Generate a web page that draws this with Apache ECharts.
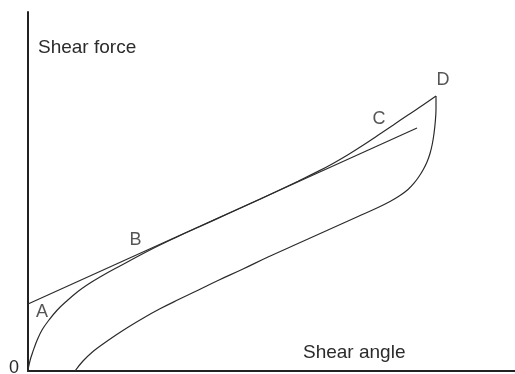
<!DOCTYPE html>
<html>
<head>
<meta charset="utf-8">
<script src="https://cdn.jsdelivr.net/npm/echarts@6/dist/echarts.min.js"></script>
<style>
  html, body { margin: 0; padding: 0; background: #fff; }
  #chart { width: 515px; height: 374px; }
</style>
</head>
<body>
<div id="chart"></div>
<script>
// Loading branch: from the origin through A, B, C up to D
const loadingCurve = [
  [0, 0], [0.8, 5], [2.2, 11], [4, 16.8], [6, 22.6], [9, 30.5], [14, 41],
  [21, 51], [29.3, 61], [39.3, 70.5], [49.3, 79], [59, 86], [72, 94],
  [92, 105], [122, 121], [150, 134.5], [172, 144.5], [200, 157.2],
  [232, 171.8], [250, 180.2], [270, 189.8], [290, 199.6], [305, 207.6],
  [320, 216.3], [335, 225.8], [350, 235.8], [365, 245.8], [380, 256],
  [395, 266], [408, 275]
];
// Unloading branch: from D back down to the shear-angle axis
const unloadingCurve = [
  [408, 275], [408, 262], [407.3, 249.5], [406, 237.5], [404.3, 227],
  [402, 217.5], [399, 209], [395.3, 201.5], [391, 194.5], [386, 187.8],
  [380, 181.5], [372, 175.5], [362, 169.5], [350, 163.5], [330, 154.5],
  [300, 141], [270, 127.5], [240, 114], [215, 102], [190, 90.5],
  [170, 80.8], [150, 71.2], [132, 62.2], [115, 52.8], [100, 43.8],
  [88, 36], [75, 27], [65, 19.5], [55, 10], [47, 0]
];
// Straight tangent line touching the loading branch near B
const tangentLine = [[0, 67], [389, 243]];
// Point labels
const pointNames = ['A', 'B', 'C', 'D'];
const pointPositions = [[14, 59], [107.5, 131], [351, 252], [415, 291]];

const FONT = '"Liberation Sans", Arial, Helvetica, sans-serif';
const INK = '#2b2b2b';

const chart = echarts.init(document.getElementById('chart'));

const lineStyle = { color: INK, width: 1.2 };

chart.setOption({
  animation: false,
  backgroundColor: '#fff',
  grid: { left: 28, right: 0, top: 12, bottom: 3, containLabel: false },
  xAxis: {
    type: 'value', min: 0, max: 487,
    axisLine: { show: true, lineStyle: { color: '#222', width: 2 } },
    axisTick: { show: false }, axisLabel: { show: false }, splitLine: { show: false }
  },
  yAxis: {
    type: 'value', min: 0, max: 359,
    axisLine: { show: true, lineStyle: { color: '#222', width: 2 } },
    axisTick: { show: false }, axisLabel: { show: false }, splitLine: { show: false }
  },
  series: [
    { type: 'line', data: loadingCurve, smooth: 0.4, showSymbol: false,
      lineStyle: lineStyle },
    { type: 'line', data: unloadingCurve, smooth: 0.4, showSymbol: false,
      lineStyle: lineStyle },
    { type: 'line', data: tangentLine, showSymbol: false, lineStyle: lineStyle },
    {
      type: 'scatter', symbolSize: 0,
      data: pointNames.map((n, i) => ({ name: n, value: pointPositions[i] })),
      label: {
        show: true, position: 'inside', formatter: '{b}',
        fontFamily: FONT, fontSize: 18, color: INK
      }
    }
  ],
  graphic: [
    { type: 'text', left: 38, top: 38,
      style: { text: 'Shear force', font: '19px ' + FONT, fill: INK } },
    { type: 'text', left: 303, top: 343,
      style: { text: 'Shear angle', font: '19px ' + FONT, fill: INK } },
    { type: 'text', left: 9, top: 359,
      style: { text: '0', font: '18px ' + FONT, fill: INK } }
  ]
});
</script>
</body>
</html>
